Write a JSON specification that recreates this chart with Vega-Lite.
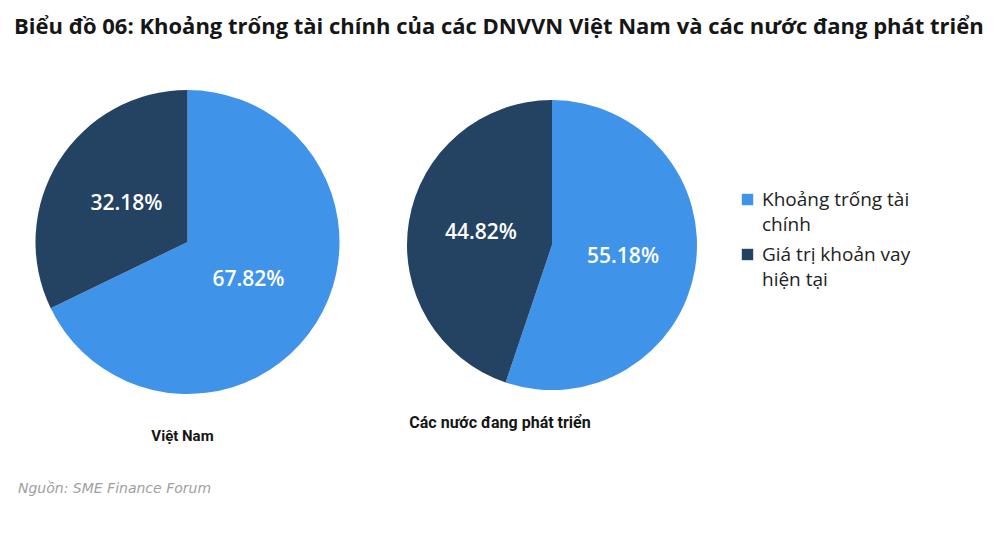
{
  "$schema": "https://vega.github.io/schema/vega-lite/v6.json",
  "background": "white",
  "padding": {"left": 10, "top": 16, "right": 0, "bottom": 0},
  "title": {
    "text": "Biểu đồ 06: Khoảng trống tài chính của các DNVVN Việt Nam và các nước đang phát triển",
    "anchor": "start",
    "font": "Open Sans",
    "fontSize": 22,
    "fontWeight": "bold",
    "color": "#161616",
    "offset": 20,
    "dx": 4
  },
  "config": {"view": {"stroke": null}},
  "datasets": {
    "vn": [
      {"group": "Khoảng trống tài chính", "value": 0.6782, "order": 1},
      {"group": "Giá trị khoản vay hiện tại", "value": 0.3218, "order": 2}
    ],
    "dev": [
      {"group": "Khoảng trống tài chính", "value": 0.5518, "order": 1},
      {"group": "Giá trị khoản vay hiện tại", "value": 0.4482, "order": 2}
    ],
    "note": [{"text": "Nguồn: SME Finance Forum"}]
  },
  "spacing": 35,
  "vconcat": [
    {
      "spacing": 0,
      "hconcat": [
        {
          "width": 355,
          "height": 366,
          "data": {"name": "vn"},
          "title": {"text": "Việt Nam", "orient": "bottom", "font": "Roboto", "fontSize": 15, "fontWeight": "bold", "color": "#161616", "offset": 4, "dx": -5},
          "encoding": {
            "theta": {"field": "value", "type": "quantitative", "stack": true},
            "order": {"field": "order", "type": "quantitative"},
            "color": {
              "field": "group", "type": "nominal",
              "scale": {"domain": ["Khoảng trống tài chính", "Giá trị khoản vay hiện tại"], "range": ["#3f94ea", "#244262"]},
              "legend": {
                "orient": "none", "legendX": 728, "legendY": 131, "title": null,
                "symbolType": "square", "symbolSize": 130, "symbolStrokeWidth": 0,
                "labelFont": "Open Sans", "labelFontSize": 19, "labelColor": "#222222",
                "labelLimit": 300, "labelOffset": 5, "rowPadding": 10,
                "labelExpr": "datum.label == 'Khoảng trống tài chính' ? ['Khoảng trống tài', 'chính'] : ['Giá trị khoản vay', 'hiện tại']",
                "encode": {"labels": {"update": {"lineHeight": {"value": 25}}}}
              }
            }
          },
          "layer": [
            {"mark": {"type": "arc", "outerRadius": 152}},
            {
              "mark": {"type": "text", "radius": 72, "font": "Open Sans", "fontSize": 21, "fontWeight": 600, "fill": "white"},
              "encoding": {"text": {"field": "value", "type": "quantitative", "format": ".2%"}, "color": {"value": "white"}}
            }
          ]
        },
        {
          "width": 374,
          "height": 372,
          "data": {"name": "dev"},
          "title": {"text": "Các nước đang phát triển", "orient": "bottom", "font": "Roboto", "fontSize": 16, "fontWeight": "bold", "color": "#161616", "offset": -16, "dx": -52},
          "encoding": {
            "theta": {"field": "value", "type": "quantitative", "stack": true},
            "order": {"field": "order", "type": "quantitative"},
            "color": {
              "field": "group", "type": "nominal",
              "scale": {"domain": ["Khoảng trống tài chính", "Giá trị khoản vay hiện tại"], "range": ["#3f94ea", "#244262"]}
            }
          },
          "layer": [
            {"mark": {"type": "arc", "outerRadius": 145}},
            {
              "mark": {"type": "text", "radius": 72, "font": "Open Sans", "fontSize": 21, "fontWeight": 600, "fill": "white"},
              "encoding": {"text": {"field": "value", "type": "quantitative", "format": ".2%"}, "color": {"value": "white"}}
            }
          ]
        }
      ]
    },
    {
      "width": 300,
      "height": 20,
      "data": {"name": "note"},
      "mark": {"type": "text", "align": "left", "baseline": "middle", "font": "DejaVu Sans", "fontSize": 14, "fontStyle": "italic", "color": "#a0a0a0", "x": 8},
      "encoding": {"text": {"field": "text", "type": "nominal"}}
    }
  ]
}
